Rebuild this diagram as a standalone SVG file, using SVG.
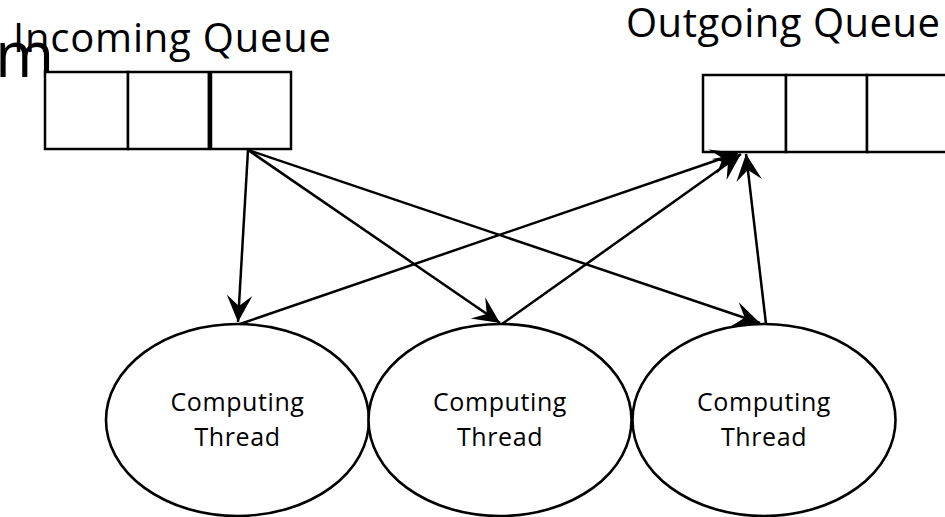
<svg xmlns="http://www.w3.org/2000/svg" width="945" height="517" viewBox="0 0 945 517">
  <style>
    .title { font-family: "Open Sans", "Liberation Sans", sans-serif; font-size: 40px; fill: #000; }
    .label { font-family: "Open Sans", "Liberation Sans", sans-serif; font-size: 25px; letter-spacing: 0.6px; fill: #000; text-anchor: middle; }
    .cell { fill: #fff; stroke: #000; stroke-width: 2.5; }
    .thread { fill: #fff; stroke: #000; stroke-width: 2.6; }
    .edge { fill: none; stroke: #000; stroke-width: 2.5; marker-end: url(#arrow); }
  </style>
  <defs>
    <marker id="arrow" markerUnits="userSpaceOnUse" markerWidth="30" markerHeight="30" viewBox="-26 -13 28 26" refX="0" refY="0" orient="auto">
      <path d="M0,0 L-25,-12 L-15,0 L-25,12 Z" fill="#000"/>
    </marker>
  </defs>
  <rect width="945" height="517" fill="#fff"/>

  <!-- stray glyph left of the title -->
  <text x="-5" y="77" class="title" style="font-size:64px">m</text>

  <g id="incoming-queue">
    <text x="13" y="52" class="title" textLength="318" lengthAdjust="spacing">Incoming Queue</text>
    <rect class="cell" x="45" y="72" width="83" height="77"/>
    <rect class="cell" x="128" y="72" width="81" height="77"/>
    <rect class="cell" x="211" y="72" width="80" height="77"/>
    <line x1="209" y1="72" x2="209" y2="149" stroke="#000" stroke-width="2.5"/>
  </g>

  <g id="outgoing-queue">
    <text x="626" y="37" class="title" textLength="314" lengthAdjust="spacing">Outgoing Queue</text>
    <rect class="cell" x="703" y="75" width="83" height="77"/>
    <rect class="cell" x="786" y="75" width="81" height="77"/>
    <rect class="cell" x="867" y="75" width="90" height="77"/>
  </g>

  <g id="thread-1">
    <ellipse class="thread" cx="237.5" cy="420" rx="131.5" ry="96"/>
    <text class="label" x="237.5" y="411">Computing</text>
    <text class="label" x="237.5" y="446">Thread</text>
  </g>
  <g id="thread-2">
    <ellipse class="thread" cx="500" cy="420" rx="131.5" ry="96"/>
    <text class="label" x="500" y="411">Computing</text>
    <text class="label" x="500" y="446">Thread</text>
  </g>
  <g id="thread-3">
    <ellipse class="thread" cx="764" cy="420" rx="131.5" ry="96"/>
    <text class="label" x="764" y="411">Computing</text>
    <text class="label" x="764" y="446">Thread</text>
  </g>

  <g id="connectors">
    <!-- incoming queue to each thread -->
    <line class="edge" x1="248" y1="150" x2="238" y2="322"/>
    <line class="edge" x1="248" y1="150" x2="500" y2="323"/>
    <line class="edge" x1="248" y1="150" x2="760" y2="323"/>
    <!-- each thread to outgoing queue -->
    <line class="edge" x1="240" y1="324" x2="738" y2="153"/>
    <line class="edge" x1="502" y1="324" x2="741" y2="154"/>
    <line class="edge" x1="766" y1="324" x2="746" y2="154"/>
  </g>
</svg>
